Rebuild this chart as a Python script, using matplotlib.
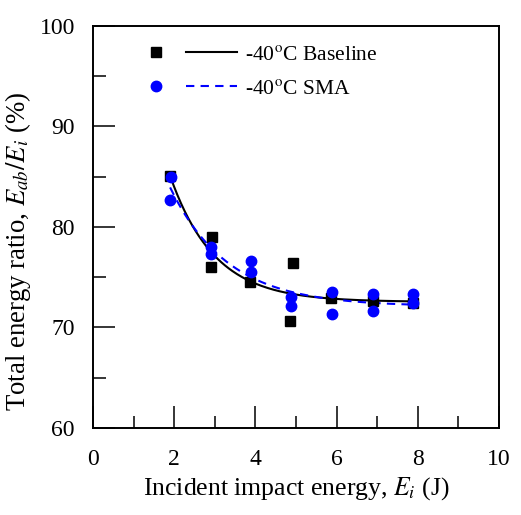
""" Total energy ratio vs incident impact energy at -40C, baseline vs SMA. """

import numpy as np
import matplotlib
matplotlib.use('Agg')
import matplotlib.pyplot as plt
from matplotlib.legend_handler import HandlerTuple

plt.rcParams['font.family'] = ['Liberation Serif', 'DejaVu Serif']
plt.rcParams['mathtext.fontset'] = 'stix'

# Baseline measurements
base_energy = [1.90, 2.92, 2.90, 3.87, 4.93, 4.85, 5.86, 6.90, 7.88]
base_ratio = [85.1, 79.0, 76.0, 74.5, 76.4, 70.6, 72.9, 72.6, 72.4]

# SMA measurements
sma_energy = [1.92, 1.90, 2.91, 2.91, 3.89, 3.89, 4.88, 4.88, 5.89, 5.89, 6.90, 6.90, 7.88, 7.88]
sma_ratio = [85.0, 82.7, 78.0, 77.3, 76.6, 75.5, 73.0, 72.1, 73.5, 71.3, 73.3, 71.6, 73.3, 72.4]


def exp_fit(x, y):
    """ Least-squares fit of y = a + b*exp(-x/t), returns a callable. """
    x = np.asarray(x)
    y = np.asarray(y)
    best = None
    for t in np.linspace(0.2, 5.0, 481):
        A = np.column_stack([np.ones_like(x), np.exp(-x / t)])
        coef, _, _, _ = np.linalg.lstsq(A, y, rcond=None)
        err = np.sum((A @ coef - y) ** 2)
        if best is None or err < best[0]:
            best = (err, coef, t)
    _, (a, b), t = best
    return lambda xx: a + b * np.exp(-xx / t)


fig = plt.figure(figsize=(5.21, 5.15), dpi=100)
ax = fig.add_axes([0.1785, 0.169, 0.779, 0.781])

base_fit = exp_fit(base_energy, base_ratio)
sma_fit = exp_fit(sma_energy, sma_ratio)
xb = np.linspace(min(base_energy), max(base_energy), 200)
xs = np.linspace(min(sma_energy), max(sma_energy), 200)

ax.plot(base_energy, base_ratio, 's', color='black', markersize=7.5, zorder=3)
ax.plot(sma_energy, sma_ratio, 'o', color='#0000ff', markersize=7.5, zorder=4)
ax.plot(xb, base_fit(xb), '-', color='black', lw=1.5, zorder=2)
ax.plot(xs, sma_fit(xs), '--', color='#0000ff', lw=1.5, dashes=(4, 3), zorder=2)

# Legend drawn with proxy handles (marker + line)
h1 = ax.plot([], [], 's', color='black', markersize=7.5)[0]
h2 = ax.plot([], [], '-', color='black', lw=1.5)[0]
h3 = ax.plot([], [], 'o', color='#0000ff', markersize=7.5)[0]
h4 = ax.plot([], [], '--', color='#0000ff', lw=1.5, dashes=(4, 3))[0]
ax.legend([(h1, h2), (h3, h4)], ['-40$^{\\rm o}$C Baseline', '-40$^{\\rm o}$C SMA'],
          handler_map={tuple: HandlerTuple(ndivide=None, pad=0.24)},
          loc='upper left', bbox_to_anchor=(0.094, 0.953), frameon=False,
          borderaxespad=0, borderpad=0,
          fontsize=15.5, handlelength=4.9, handletextpad=0.39, labelspacing=0.65)

ax.set_xlim(0, 10)
ax.set_ylim(60, 100)
ax.set_xticks([0, 2, 4, 6, 8, 10])
ax.set_xticks([1, 3, 5, 7, 9], minor=True)
ax.set_yticks([60, 70, 80, 90, 100])
ax.set_yticks([65, 75, 85, 95], minor=True)
ax.tick_params(which='both', direction='in', top=False, right=False,
               labelsize=17, width=1.1)
ax.tick_params(which='major', length=16)
ax.tick_params(which='minor', length=9)
ax.tick_params(axis='x', which='major', pad=15)
ax.tick_params(axis='y', which='major', pad=13)
for s in ax.spines.values():
    s.set_linewidth(1.4)

ax.set_xlabel('Incident impact energy, $E_i$ (J)', fontsize=18.5, labelpad=4)
ax.set_ylabel('Total energy ratio, $E_{ab}/E_i$ (%)', fontsize=19.3)
ax.yaxis.set_label_coords(-0.148, 0.44)

fig.savefig('out.png', dpi=100)
